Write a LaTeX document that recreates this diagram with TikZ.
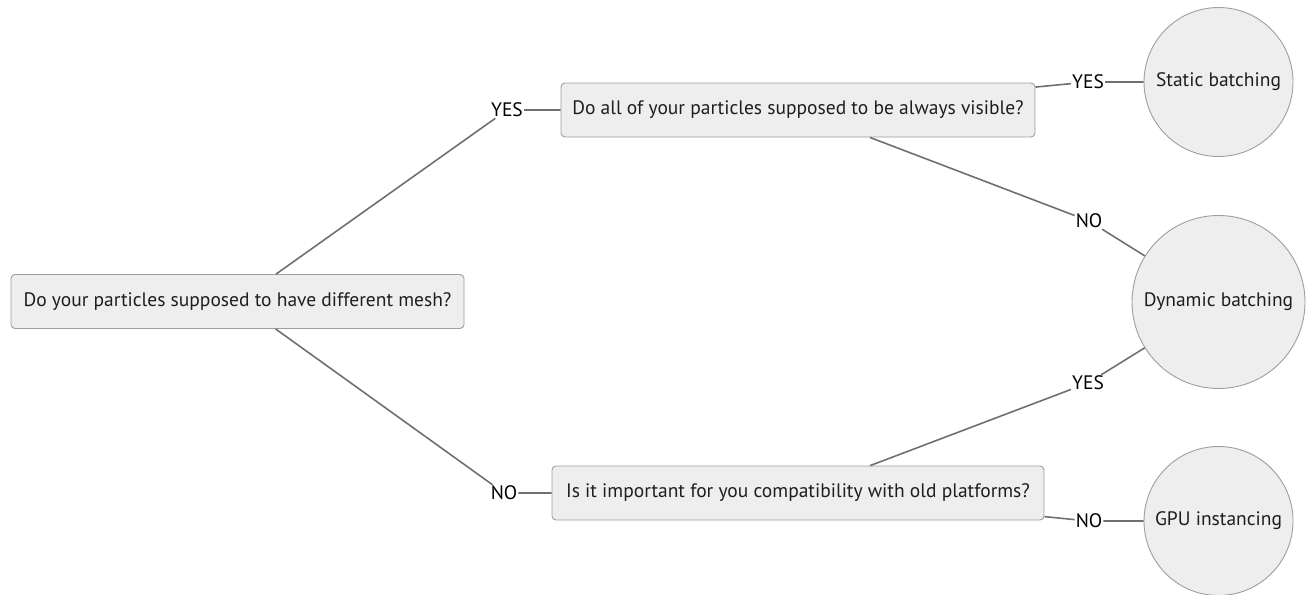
\documentclass[tikz,border=0pt]{standalone}
\usepackage{fontspec}
\setmainfont{PT Sans}
\definecolor{nodefill}{HTML}{EEEEEE}
\definecolor{nodeline}{HTML}{9E9E9E}
\definecolor{edgeline}{HTML}{707070}
\definecolor{nodetext}{HTML}{1E1E1E}
\begin{document}
\begin{tikzpicture}[x=1pt,y=-1pt,
  question/.style={draw=nodeline, line width=0.9pt, fill=nodefill, rounded corners=4pt,
    minimum height=54pt, inner sep=0pt, text=nodetext, font=\fontsize{19.5}{22}\selectfont},
  outcome/.style={circle, draw=nodeline, line width=0.9pt, fill=nodefill, inner sep=0pt,
    text=nodetext, font=\fontsize{19.5}{22}\selectfont},
  answer/.style={inner sep=1pt, text=black, font=\fontsize{19.5}{22}\selectfont},
  link/.style={draw=edgeline, line width=1.6pt}]
\useasboundingbox (0,0) rectangle (1308,594);

% decision boxes
\node[question, minimum width=453pt] (mesh) at (237.5,301.5) {Do your particles supposed to have different mesh?};
\node[question, minimum width=474pt] (visible) at (798,110) {Do all of your particles supposed to be always visible?};
\node[question, minimum width=492pt] (compat) at (798,493) {Is it important for you compatibility with old platforms?};

% outcomes
\node[outcome, minimum size=149pt] (static) at (1218.5,82) {Static batching};
\node[outcome, minimum size=173pt] (dynamic) at (1218.5,302) {Dynamic batching};
\node[outcome, minimum size=149pt] (gpu) at (1218.5,521) {GPU instancing};

% answer labels
\node[answer] (yesA) at (507,110) {YES};
\node[answer] (noA) at (504,493) {NO};
\node[answer] (yesB) at (1088,82) {YES};
\node[answer] (noB) at (1089,221) {NO};
\node[answer] (yesC) at (1088,383) {YES};
\node[answer] (noC) at (1089,521) {NO};

% connectors
\draw[link] (mesh) -- (yesA) -- (visible);
\draw[link] (mesh) -- (noA) -- (compat);
\draw[link] (visible) -- (yesB) -- (static);
\draw[link] (visible) -- (noB) -- (dynamic);
\draw[link] (compat) -- (yesC) -- (dynamic);
\draw[link] (compat) -- (noC) -- (gpu);
\end{tikzpicture}
\end{document}
